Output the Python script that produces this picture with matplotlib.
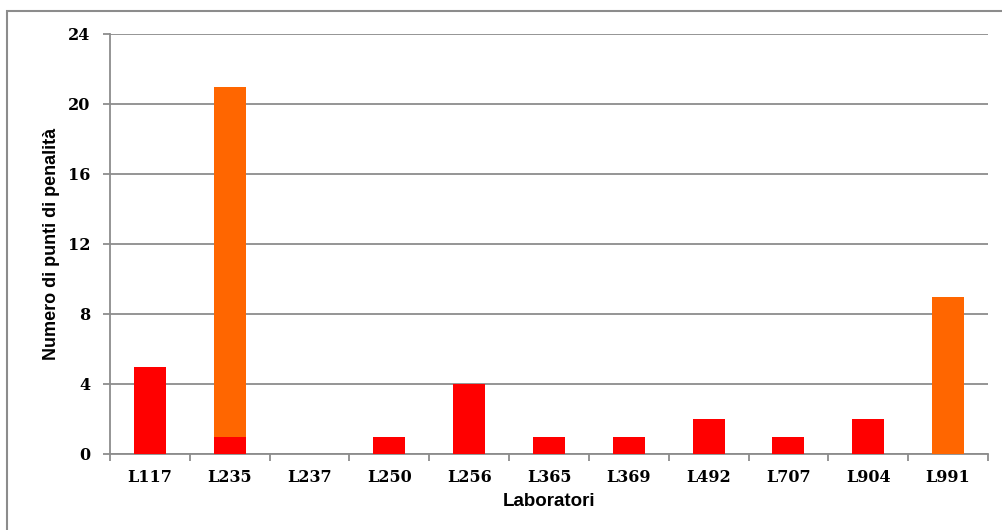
import matplotlib
matplotlib.use("Agg")
import matplotlib.pyplot as plt
from matplotlib.patches import Rectangle
import numpy as np

labs = ["L117", "L235", "L237", "L250", "L256", "L365", "L369", "L492", "L707", "L904", "L991"]
red_pts = [5, 1, 0, 1, 4, 1, 1, 2, 1, 2, 0]
orange_pts = [0, 20, 0, 0, 0, 0, 0, 0, 0, 0, 9]
yticks = [0, 4, 8, 12, 16, 20, 24]

W, H = 1002, 530
fig = plt.figure(figsize=(W / 100, H / 100), dpi=100)
fig.patch.set_facecolor("white")

# outer chart frame
fig.patches.append(Rectangle((7 / W, -0.1), 1.2, (H - 11) / H + 0.1,
                             transform=fig.transFigure, fill=False,
                             edgecolor="#8c8c8c", linewidth=1.5))

ax = fig.add_axes([110 / W, (H - 454) / H, (988 - 110) / W, (454 - 34) / H])
x = np.arange(len(labs))
ax.bar(x, red_pts, width=0.4, color="#ff0000", zorder=3)
ax.bar(x, orange_pts, width=0.4, bottom=red_pts, color="#ff6600", zorder=3)

ax.set_xlim(-0.5, len(labs) - 0.5)
ax.set_ylim(0, 24)
ax.set_yticks(yticks)
ax.yaxis.grid(True, color="#8c8c8c", linewidth=1.3, zorder=0)
ax.set_axisbelow(True)

for s in ["top", "right"]:
    ax.spines[s].set_visible(False)
for s in ["left", "bottom"]:
    ax.spines[s].set_color("#8c8c8c")
    ax.spines[s].set_linewidth(1.3)

ax.set_xticks(x)
ax.set_xticklabels(labs)
ax.set_xticks(np.arange(len(labs) + 1) - 0.5, minor=True)
ax.tick_params(axis="x", which="major", length=0, pad=11)
ax.tick_params(axis="x", which="minor", length=5, color="#8c8c8c", width=1.3, direction="out")
ax.tick_params(axis="y", length=5, color="#8c8c8c", width=1.3, direction="out", pad=9)

for t in ax.get_xticklabels() + ax.get_yticklabels():
    t.set_fontfamily("DejaVu Serif")
    t.set_fontweight("bold")
    t.set_fontsize(11.5)

ax.set_xlabel("Laboratori", fontsize=13.5, fontweight="bold",
              fontfamily="Liberation Sans", labelpad=5)
ax.set_ylabel("Numero di punti di penalità", fontsize=13, fontweight="bold",
              fontfamily="Liberation Sans", labelpad=6)

fig.savefig("out.png", dpi=100, facecolor="white")
